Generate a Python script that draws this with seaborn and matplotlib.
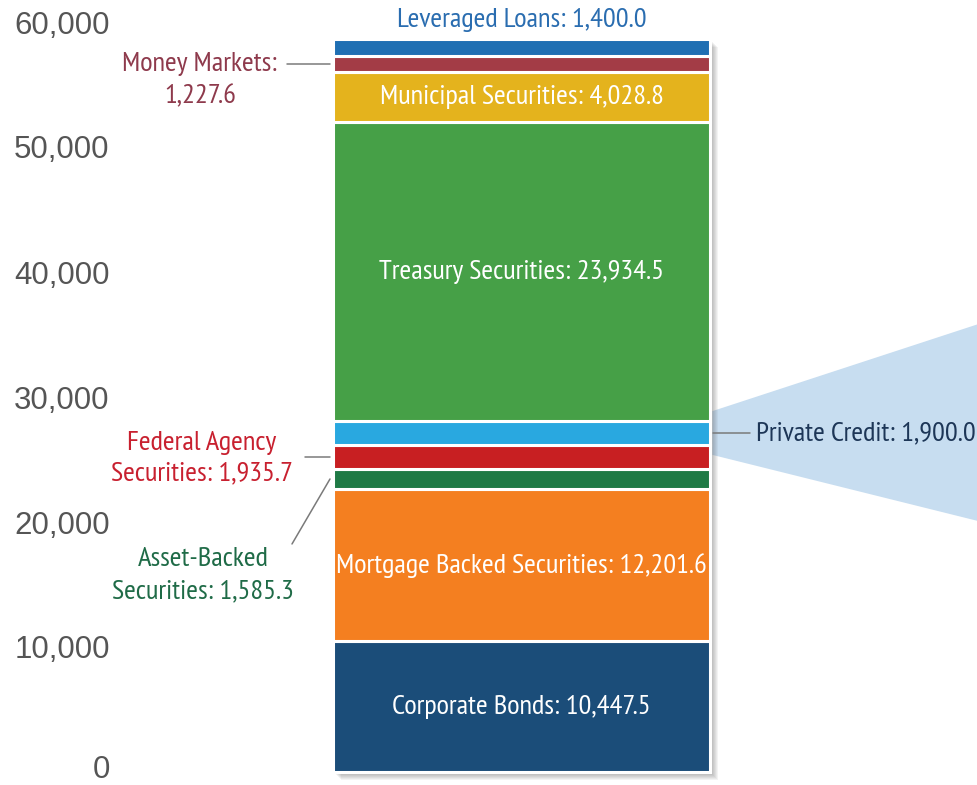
import matplotlib
matplotlib.use("Agg")
import matplotlib.pyplot as plt
import matplotlib.transforms as mtransforms
from matplotlib.patches import Rectangle, Polygon
import seaborn as sns
import numpy as np

# Debt market outstanding, stacked bottom to top
segments = [
    "Corporate Bonds", "Mortgage Backed Securities", "Asset-Backed Securities",
    "Federal Agency Securities", "Private Credit", "Treasury Securities",
    "Municipal Securities", "Money Markets", "Leveraged Loans",
]
values = [10447.5, 12201.6, 1585.3, 1935.7, 1900.0, 23934.5, 4028.8, 1227.6, 1400.0]
colors = ["#1b4d79", "#f47f20", "#1f7a45", "#c81f22", "#29a8e0",
          "#46a047", "#e4b31d", "#a33c46", "#1f6fb3"]
y_ticks = [0, 10000, 20000, 30000, 40000, 50000, 60000]
y_tick_labels = ["0", "10,000", "20,000", "30,000", "40,000", "50,000", "60,000"]

sns.set_style("white")
cond = ["PT Sans Narrow", "Fira Sans Condensed", "Archivo Narrow", "Asap Condensed", "DejaVu Sans"]
LBL = 20.5

W, H = 977, 785
fig = plt.figure(figsize=(W / 100, H / 100), dpi=100)
left_px = 118
ax = fig.add_axes([left_px / W, 0, 1 - left_px / W, 1])

bottoms = np.concatenate([[0], np.cumsum(values)[:-1]])
for val, bot, col in zip(values, bottoms, colors):
    sns.barplot(x=[0], y=[val], bottom=bot, color=col, saturation=1, width=0.8,
                edgecolor="white", linewidth=2.2, errorbar=None, ax=ax, zorder=3)

# axis geometry (bar spans fixed pixel columns)
ax_w = W - left_px
center_px, bar_px = 521.5 - left_px, 377
scale = bar_px / 0.8
ax.set_xlim(-center_px / scale, (ax_w - center_px) / scale)
ppu = 750 / 60000
ax.set_ylim(-13 / ppu, 60000 + 22 / ppu)

ax.set_yticks(y_ticks)
ax.set_yticklabels(y_tick_labels, fontsize=22.5, color="#555555",
                   family=["Liberation Sans", "DejaVu Sans"])
ax.tick_params(axis="y", length=0, pad=6)
# keep the zero label clear of the bottom edge
zero_lbl = ax.get_yticklabels()[0]
zero_lbl.set_transform(zero_lbl.get_transform() + mtransforms.Affine2D().translate(0, 6))
ax.set_xticks([])
ax.set_xlabel("")
ax.set_ylabel("")
for s in ax.spines.values():
    s.set_visible(False)

total = float(np.sum(values))
x0, x1 = -0.4, 0.4

# soft drop shadow behind the bar
for d in range(1, 9):
    off = mtransforms.offset_copy(ax.transData, fig=fig, x=d, y=-d, units="dots")
    ax.add_patch(Rectangle((x0, 0), x1 - x0, total, transform=off,
                           facecolor="#505050", alpha=0.065, edgecolor="none", zorder=1))

# wedge fanning out from the private credit segment
pc = 4
pc_lo, pc_hi = bottoms[pc], bottoms[pc] + values[pc]
xr = ax.get_xlim()[1]
ax.add_patch(Polygon([(x1 + 0.005, pc_lo - 800), (x1 + 0.005, pc_hi + 800),
                      (xr, 35800), (xr, 20100)],
                     closed=True, facecolor="#c7ddf0", edgecolor="none", zorder=0.5))

# labels inside the bar
for idx in [0, 1, 5, 6]:
    mid = bottoms[idx] + values[idx] / 2
    ax.text(0, mid, f"{segments[idx]}: {values[idx]:,.1f}", ha="center", va="center",
            color="white", fontsize=LBL, family=cond, zorder=5)

# leveraged loans above the bar
ax.text(0, total + 1500, f"{segments[8]}: {values[8]:,.1f}", ha="center", va="center",
        color="#2a6db0", fontsize=LBL, family=cond, zorder=5)

px = 1 / scale  # one pixel in x data units
line_kw = dict(color="#7a7a7a", lw=1.1, zorder=4)

# money markets callout
mid = bottoms[7] + values[7] / 2
ax.plot([x0 - 46 * px, x0 - 3 * px], [mid, mid], **line_kw)
ax.text(x0 - 133 * px, mid - 1300, f"{segments[7]}:\n{values[7]:,.1f}", ha="center", va="center",
        color="#8e3a4c", fontsize=LBL, family=cond, linespacing=1.42)

# federal agency callout
mid = bottoms[3] + values[3] / 2
ax.plot([x0 - 28 * px, x0 - 3 * px], [mid, mid], **line_kw)
ax.text(x0 - 131 * px, mid - 100, "Federal Agency\n" + f"Securities: {values[3]:,.1f}",
        ha="center", va="center", color="#c8202f", fontsize=LBL, family=cond, linespacing=1.32)

# asset-backed callout
mid = bottoms[2] + values[2] / 2
ax.plot([x0 - 41 * px, x0 - 3 * px], [mid - 5200, mid], **line_kw)
ax.text(x0 - 130 * px, mid - 7700, "Asset-Backed\n" + f"Securities: {values[2]:,.1f}",
        ha="center", va="center", color="#1f6b47", fontsize=LBL, family=cond, linespacing=1.4)

# private credit callout
mid = bottoms[pc] + values[pc] / 2
ax.plot([x1 + 3 * px, x1 + 40 * px], [mid, mid], **line_kw)
ax.text(x1 + 46 * px, mid, f"{segments[pc]}: {values[pc]:,.1f}", ha="left", va="center",
        color="#1d3657", fontsize=LBL, family=cond, zorder=5)

fig.savefig("out.png", dpi=100)
